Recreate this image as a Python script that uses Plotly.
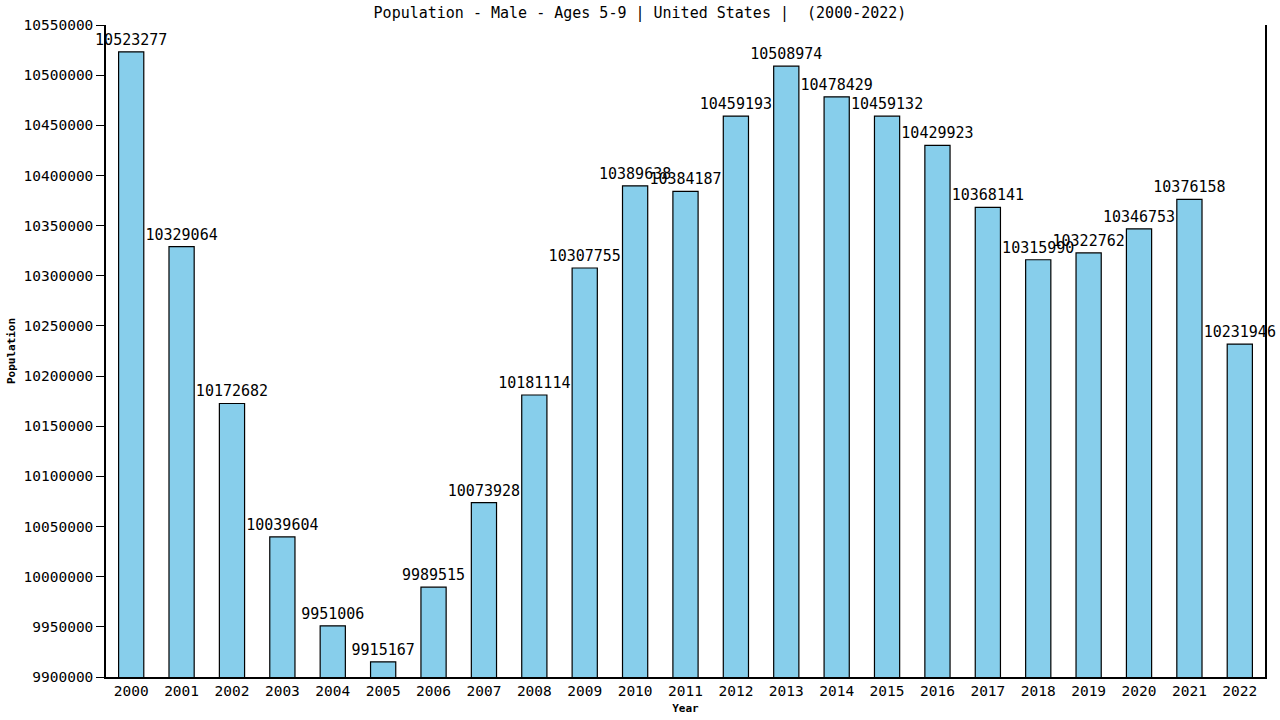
import plotly.graph_objects as go

years = [str(y) for y in range(2000, 2023)]
population = [10523277, 10329064, 10172682, 10039604, 9951006, 9915167,
              9989515, 10073928, 10181114, 10307755, 10389638, 10384187,
              10459193, 10508974, 10478429, 10459132, 10429923, 10368141,
              10315990, 10322762, 10346753, 10376158, 10231946]

y_ticks = list(range(9900000, 10550001, 50000))

FONT = "DejaVu Sans Mono"

fig = go.Figure()
fig.add_trace(go.Bar(
    x=years,
    y=population,
    text=[str(v) for v in population],
    textposition="outside",
    textangle=0,
    constraintext="none",
    cliponaxis=False,
    textfont=dict(family=FONT, size=15, color="black"),
    marker=dict(color="#87CEEB", line=dict(color="black", width=1.2)),
    width=0.5,
))

fig.update_layout(
    width=1280, height=720,
    paper_bgcolor="white", plot_bgcolor="white",
    margin=dict(l=106, r=15, t=25, b=43, autoexpand=False),
    showlegend=False,
    font=dict(family=FONT, size=14, color="black"),
    title=dict(text="Population - Male - Ages 5-9 | United States |  (2000-2022)",
               x=0.5, xanchor="center", y=0.982, yanchor="middle",
               font=dict(family=FONT, size=15, color="black")),
)
fig.update_xaxes(
    type="category", range=[-0.5, 22.5], automargin=False,
    showline=True, linecolor="black", linewidth=1.5,
    ticks="", showgrid=False,
    tickfont=dict(family=FONT, size=14.5),
    title=dict(text="<b>Year</b>", font=dict(family=FONT, size=11), standoff=6),
)
fig.update_yaxes(
    range=[9900000, 10550000], tickvals=y_ticks, automargin=False,
    ticktext=[str(v) for v in y_ticks],
    showline=True, linecolor="black", linewidth=1.5, mirror=True,
    ticks="outside", ticklen=8, tickcolor="black",
    showgrid=False, zeroline=False,
    tickfont=dict(family=FONT, size=14.5),
    title=dict(text="<b>Population</b>", font=dict(family=FONT, size=11), standoff=6),
)

# drop the default 8px page margin so the figure sits at the window corner
fig.write_html("out.html", config={"displayModeBar": False},
               post_script="document.body.style.margin='0';")
